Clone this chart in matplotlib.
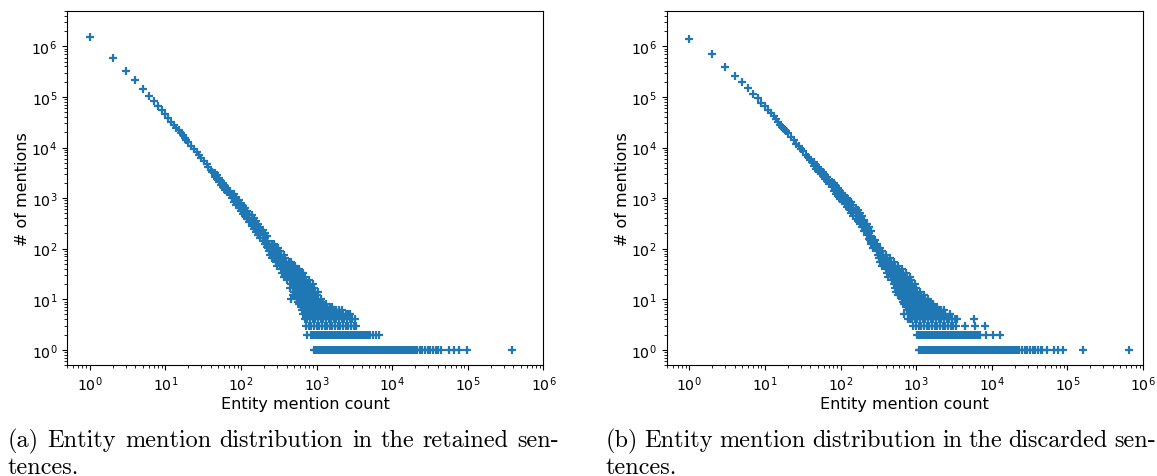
import matplotlib
matplotlib.use("Agg")
import matplotlib.pyplot as plt
import numpy as np

# Entity mention count (x) against the number of entities having that count (y).
# Retained sentences -------------------------------------------------------
ret_head_x = [1, 2, 3, 4, 5, 6, 7, 8, 9, 10, 11, 12, 13, 14, 15, 16, 17, 18, 19, 20,
              22, 24, 26, 28, 30]
ret_head_y = [1530000, 597000, 325000, 212000, 145000, 105000, 82600, 66800, 54100, 45100,
              37900, 32400, 28100, 24500, 21700, 19300, 17300, 15600, 14100, 12900,
              10800, 9270, 8020, 7010, 6190]

ret_band_x = [32, 35, 37, 40, 42,
              45, 45, 48, 48, 51, 51, 55, 55, 58, 58, 62, 62, 66, 66, 71, 71, 76, 76,
              81, 81, 81, 87, 87, 87, 93, 93, 93, 99, 99, 99, 106, 106, 106,
              113, 113, 113, 121, 121, 121, 129, 129, 129, 138, 138, 138,
              148, 148, 148, 158, 158, 158, 169, 169, 169, 181, 181, 181,
              193, 193, 193, 207, 207, 207, 221, 221, 221]
ret_band_y = [5500, 4650, 4200, 3620, 3310,
              3190, 2660, 2830, 2350, 2530, 2110, 2200, 1830, 1990, 1660, 1770, 1470,
              1580, 1310, 1380, 1150, 1220, 1010,
              1180, 985, 820, 1030, 859, 715, 910, 757, 630, 806, 671, 558, 709, 590, 491,
              627, 522, 434, 550, 458, 381, 487, 405, 337, 459, 356, 276,
              399, 310, 241, 352, 273, 212, 309, 240, 186, 270, 210, 163,
              238, 185, 144, 207, 161, 125, 180, 140, 109]

# low counts: number of entities -> mention counts seen with it
ret_rows = {
    1: [923, 960, 1000, 1041, 1084, 1128, 1175, 1223, 1274, 1326, 1380, 1437, 1496, 1558,
        1622, 1689, 1758, 1830, 1905, 1984, 2065, 2151, 2239, 2331, 2427, 2527, 2630, 2739,
        2851, 2969, 3090, 3218, 3350, 3488, 3631, 3781, 3936, 4098, 4266, 4442, 4624, 4815,
        5012, 5218, 5430, 5656, 5890, 6131, 6380, 6646, 6920, 7204, 7500, 7808, 8130, 8463,
        8810, 9174, 9550, 9943, 10350, 10778, 11220, 11683, 12160, 12663, 13180, 13726,
        14290, 14878, 15490, 16127, 16790, 17480, 18200, 18948, 19720, 20538, 21380,
        23170, 25120, 27230, 29510, 31990, 34670, 37580, 40740, 44160,
        56200, 66100, 77600, 97700, 380000],
    2: [752, 851, 886, 923, 960, 1000, 1041, 1084, 1128, 1175, 1223, 1274, 1326, 1380, 1437,
        1496, 1558, 1622, 1689, 1758, 1830, 1905, 1984, 2065, 2151, 2239, 2331, 2427, 2527,
        2630, 2739, 2851, 2969, 3090, 3218, 3350, 3488, 3631, 3781, 3936, 4098, 4266, 4442,
        4624, 4815, 5012, 5560, 6170, 6760],
    3: [724, 785, 851, 923, 1000, 1084, 1175, 1274, 1380, 1496, 1622, 1758, 1905, 2065,
        2239, 2427, 2630, 2851, 3090, 3350],
    4: [710, 754, 818, 886, 960, 1041, 1128, 1223, 1326, 1437, 1558, 1689, 1830, 1984,
        2151, 2331, 2527, 2739, 2969, 3218],
    5: [668, 724, 785, 851, 923, 1000, 1084, 1175, 1274, 1380, 1496, 1622, 1758, 1905,
        2065, 2239, 2427, 2630, 2780],
    6: [642, 696, 754, 818, 886, 960, 1041, 1128, 1223, 1326, 1437, 1558, 1689, 1830,
        1984, 2151],
    7: [617, 668, 724, 785, 851, 923, 1000, 1084, 1175, 1274, 1380, 1496, 1622],
    8: [592, 642, 696, 754, 818, 886, 960, 1041, 1128, 1223, 1326],
    9: [569, 617, 668, 724, 785, 851, 923, 1000, 1084, 1175],
    10: [458, 546, 592, 642, 696, 754, 818, 886, 960, 1041, 1128],
    12: [484, 525, 569, 617, 668, 724, 785, 851, 923, 1000],
    14: [504, 546, 592, 642, 696, 754, 818, 886, 960, 1041],
    17: [447, 484, 525, 569, 617, 668, 724, 785, 851, 923],
    20: [465, 504, 546, 592, 642, 696, 754, 818, 886],
    24: [412, 447, 484, 525, 569, 617, 668, 724, 785],
    28: [365, 396, 429, 465, 504, 546, 592, 642, 696],
    33: [351, 380, 412, 447, 484, 525, 569, 617, 668],
    39: [337, 365, 396, 429, 465, 504, 546, 592],
    46: [299, 324, 351, 380, 412, 447, 484, 525],
    54: [287, 311, 337, 365, 396, 429, 465],
    64: [254, 275, 299, 324, 351, 380],
    76: [244, 265, 287, 311, 337, 365],
    90: [234, 254, 275, 299, 324],
    105: [225, 244, 265, 287, 311],
    124: [216, 234, 254, 275],
}

# Discarded sentences ------------------------------------------------------
dis_head_x = [1, 2, 3, 4, 5, 6, 7, 8, 9, 10, 11, 12, 13, 14, 15, 16, 17, 18, 19, 20,
              22, 24, 26, 28, 30]
dis_head_y = [1400000, 705000, 384000, 262000, 194000, 147000, 114000, 93300, 77600, 66100,
              55700, 47600, 41300, 36100, 31900, 28400, 25500, 23000, 20900, 19100,
              16100, 13800, 12000, 10500, 9330]

dis_band_x = [32, 35, 37, 40, 42,
              45, 45, 48, 48, 51, 51, 55, 55, 58, 58, 62, 62, 66, 66, 71, 71, 76, 76,
              81, 81, 81, 87, 87, 87, 93, 93, 93, 99, 99, 99, 106, 106, 106,
              113, 113, 113, 121, 121, 121, 129, 129, 129, 138, 138, 138,
              148, 148, 148, 158, 158, 158, 169, 169, 169, 181, 181, 181,
              193, 193, 193, 207, 207, 207, 221, 221, 221, 237, 237, 237, 253, 253, 253]
dis_band_y = [8340, 7140, 6490, 5670, 5210,
              5070, 4220, 4540, 3780, 4080, 3400, 3590, 2990, 3280, 2730, 2920, 2430,
              2620, 2180, 2300, 1910, 2040, 1700,
              1990, 1660, 1380, 1760, 1470, 1220, 1570, 1310, 1090, 1410, 1170, 973,
              1250, 1040, 865, 1110, 925, 770, 982, 817, 680, 875, 728, 606,
              828, 643, 499, 729, 566, 439, 647, 502, 390, 573, 445, 345,
              506, 393, 305, 434, 337, 262, 366, 284, 220, 312, 242, 188,
              263, 204, 158, 224, 174, 135]

dis_rows = {
    1: [1084, 1128, 1175, 1223, 1274, 1326, 1380, 1437, 1496, 1558, 1622, 1689, 1758, 1830,
        1905, 1984, 2065, 2151, 2239, 2331, 2427, 2527, 2630, 2739, 2851, 2969, 3090, 3218,
        3350, 3488, 3631, 3781, 3936, 4098, 4266, 4442, 4624, 4815, 5012, 5218, 5430, 5656,
        5890, 6131, 6380, 6646, 6920, 7204, 7500, 7808, 8130, 8463, 8810, 9174, 9550, 9943,
        10350, 10778, 11220, 11683, 12160, 12663, 13180, 13726, 14290, 14878, 15490, 16127,
        16790, 17480, 18200, 18948, 19720, 20538, 21380,
        23170, 25120, 27230, 29510, 31990, 34670, 37580, 40740, 44160, 45700,
        53700, 66100, 75900, 87100, 162000, 646000],
    2: [1020, 1084, 1128, 1175, 1223, 1274, 1326, 1380, 1437, 1496, 1558, 1622, 1689, 1758,
        1830, 1905, 1984, 2065, 2151, 2239, 2331, 2427, 2527, 2630, 2739, 2851, 2969, 3090,
        3218, 3350, 3488, 3631, 3781, 3936, 4098, 4266, 4442, 4624, 4815, 5012, 5218, 5430,
        5656, 5890, 6131, 6380, 6646, 6920, 8510, 10500, 12900],
    3: [900, 1000, 1084, 1175, 1274, 1380, 1496, 1622, 1758, 1905, 2065, 2239, 2427, 2630,
        2851, 3090, 3350, 4370, 6030, 8130],
    4: [790, 818, 886, 960, 1041, 1128, 1223, 1326, 1437, 1558, 1689, 1830, 1984, 2151,
        2331, 2527, 2739, 2969, 3218, 3470, 5890],
    5: [690, 785, 851, 923, 1000, 1084, 1175, 1274, 1380, 1496, 1622, 1758, 1905, 2065,
        2239, 2427, 2820],
    6: [754, 818, 886, 960, 1041, 1128, 1223, 1326, 1437, 1558, 1689, 1830, 1984, 2151, 2331],
    7: [724, 785, 851, 923, 1000, 1084, 1175, 1274, 1380, 1496, 1622, 1758, 1905],
    8: [696, 754, 818, 886, 960, 1041, 1128, 1223, 1326, 1437, 1558, 1689],
    9: [668, 724, 785, 851, 923, 1000, 1084, 1175, 1274, 1380, 1496],
    10: [642, 696, 754, 818, 886, 960, 1041, 1128, 1223, 1326, 1437],
    12: [569, 617, 668, 724, 785, 851, 923, 1000, 1084, 1175, 1274],
    14: [546, 592, 642, 696, 754, 818, 886, 960, 1041, 1128],
    17: [525, 569, 617, 668, 724, 785, 851, 923, 1000],
    20: [504, 546, 592, 642, 696, 754, 818, 886, 960],
    24: [484, 525, 569, 617, 668, 724, 785, 851],
    28: [429, 465, 504, 546, 592, 642, 696, 754, 818],
    33: [412, 447, 484, 525, 569, 617, 668, 724],
    39: [396, 429, 465, 504, 546, 592, 642],
    46: [351, 380, 412, 447, 484, 525, 569],
    54: [337, 365, 396, 429, 465, 504],
    64: [324, 351, 380, 412, 447],
    76: [311, 337, 365, 396],
    90: [299, 324, 351],
    105: [265, 287, 311, 337],
    124: [254, 275, 299],
    146: [244, 265, 287],
}

captions = [("(a) Entity mention distribution in the retained sen-", "tences."),
            ("(b) Entity mention distribution in the discarded sen-", "tences.")]


def collect(head_x, head_y, band_x, band_y, rows):
    """Stack the head, the band and the low-count rows into one point set."""
    xs = list(head_x) + list(band_x)
    ys = list(head_y) + list(band_y)
    for count, row in rows.items():
        xs += row
        ys += [count] * len(row)
    return np.array(xs, dtype=float), np.array(ys, dtype=float)


def justified(fig, left_px, right_px, base_px, line, **kw):
    """Spread the words of one caption line over the column width."""
    renderer = fig.canvas.get_renderer()
    W, H = fig.bbox.width, fig.bbox.height
    words = line.split(' ')
    parts = [fig.text(0, 1 - base_px / H, w, va='baseline', ha='left', **kw) for w in words]
    widths = [p.get_window_extent(renderer).width for p in parts]
    gap = (right_px - left_px - sum(widths)) / (len(words) - 1)
    pos = left_px
    for p, w in zip(parts, widths):
        p.set_x(pos / W)
        pos += w + gap


panels = [collect(ret_head_x, ret_head_y, ret_band_x, ret_band_y, ret_rows),
          collect(dis_head_x, dis_head_y, dis_band_x, dis_band_y, dis_rows)]

fig = plt.figure(figsize=(11.57, 4.77), dpi=100)
lefts = [0.0579, 0.5761]
caption_cols = [(8, 559), (606, 1156)]
cap_font = dict(fontfamily='cmr10', fontsize=17.5)

for k, (x, y) in enumerate(panels):
    ax = fig.add_axes([lefts[k], 0.2327, 0.4118, 0.7421])
    ax.scatter(x, y, marker='+', color='#1f77b4', s=38, linewidths=1.6)
    ax.set_xscale('log')
    ax.set_yscale('log')
    ax.set_xlim(0.5, 1e6)
    ax.set_ylim(0.5, 5e6)
    ax.set_xlabel('Entity mention count', fontsize=11.5, labelpad=2)
    ax.set_ylabel('# of mentions', fontsize=11.5, labelpad=1)
    ax.tick_params(labelsize=10.2)

    # two-line caption under each panel, first line justified
    left_px, right_px = caption_cols[k]
    justified(fig, left_px, right_px, 447, captions[k][0], **cap_font)
    fig.text(left_px / 1157, 1 - 474 / 477, captions[k][1], va='baseline', ha='left',
             **cap_font)

fig.savefig('out.png', dpi=100)
